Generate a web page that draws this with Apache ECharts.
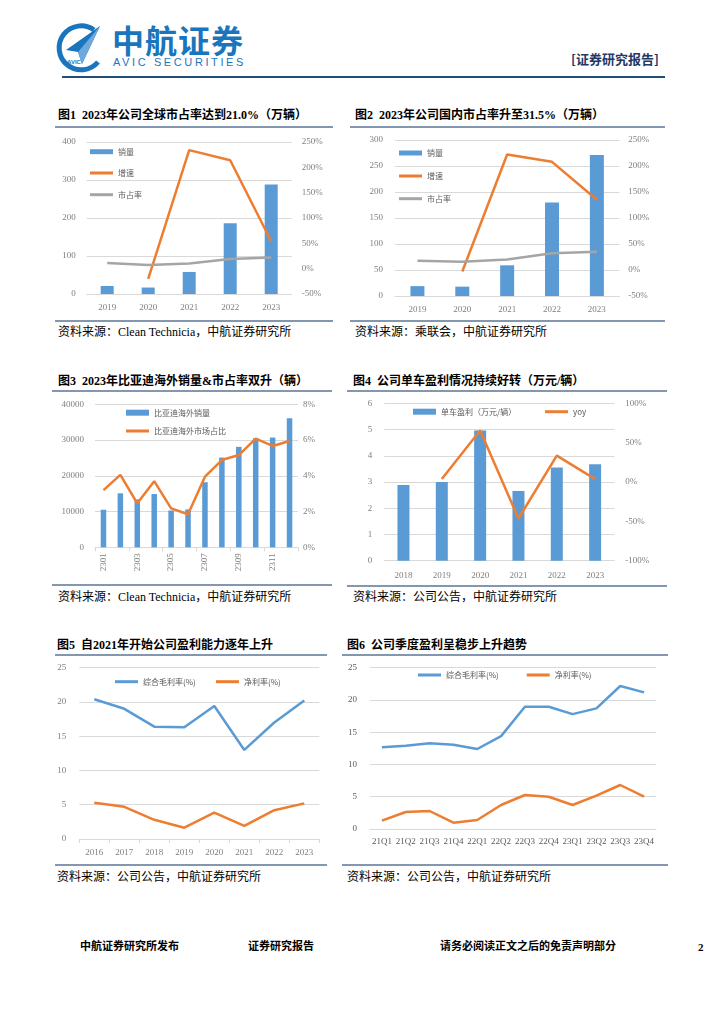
<!DOCTYPE html>
<html><head><meta charset="utf-8">
<script src="https://cdn.jsdelivr.net/npm/echarts@6/dist/echarts.min.js"></script>
<style>
html,body{margin:0;padding:0;background:#fff;}
body{width:724px;height:1024px;position:relative;overflow:hidden;font-family:'Liberation Serif','Noto Sans CJK SC',serif;}
.abs{position:absolute;}
.title{position:absolute;font-size:12px;font-weight:bold;color:#000;white-space:nowrap;line-height:14px;}
.src{position:absolute;font-size:12px;color:#000;white-space:nowrap;line-height:14px;}
.hl{position:absolute;height:1.5px;background:#8497b0;}
.chart{position:absolute;}
.foot{position:absolute;font-size:11px;font-weight:bold;color:#000;white-space:nowrap;line-height:13px;}
</style>
</head><body>
<!-- header -->
<svg class="abs" style="left:54px;top:20px" width="50" height="54" viewBox="0 0 50 54">
  <path d="M40 10 A22 22 0 1 0 44 42" fill="none" stroke="#1b75bc" stroke-width="5"/>
  <polygon points="46,6 12,30 24,32 28,44" fill="#1b75bc"/>
  <polygon points="46,6 24,32 28,44" fill="#6fa8dc"/>
  <text x="13" y="44" font-size="6" font-family="Liberation Sans,Arial" fill="#1b75bc" font-weight="bold">AVIC</text>
</svg>
<div class="abs" style="left:112px;top:20px;font-size:32px;font-weight:bold;color:#1b75bc;font-family:'Noto Sans CJK SC',sans-serif;line-height:38px;letter-spacing:1px;">中航证券</div>
<div class="abs" style="left:113px;top:56px;font-size:11px;color:#1b75bc;font-family:'Liberation Sans',Arial,sans-serif;letter-spacing:2.6px;line-height:13px;">AVIC SECURITIES</div>
<div class="abs" style="left:571px;top:51px;font-size:13px;font-weight:bold;color:#1f3864;font-family:'Noto Sans CJK SC',sans-serif;line-height:15px;">[证券研究报告]</div>
<div class="abs" style="left:62px;top:76px;width:603px;height:1.5px;background:#1f4e79;"></div>

<!-- titles -->
<div class="title" style="left:58px;top:108px;">图1&nbsp;&nbsp;2023年公司全球市占率达到21.0%（万辆）</div>
<div class="hl" style="left:55px;top:126px;width:278px;"></div>
<div class="title" style="left:355px;top:108px;">图2&nbsp;&nbsp;2023年公司国内市占率升至31.5%（万辆）</div>
<div class="hl" style="left:350px;top:126px;width:315px;"></div>
<div class="hl" style="left:55px;top:320px;width:278px;"></div>
<div class="hl" style="left:350px;top:320px;width:315px;"></div>
<div class="src" style="left:58px;top:325px;">资料来源：Clean Technicia，中航证券研究所</div>
<div class="src" style="left:355px;top:325px;">资料来源：乘联会，中航证券研究所</div>

<div class="title" style="left:58px;top:374px;">图3&nbsp;&nbsp;2023年比亚迪海外销量&amp;市占率双升（辆）</div>
<div class="hl" style="left:52px;top:390px;width:280px;"></div>
<div class="title" style="left:353px;top:374px;">图4&nbsp;&nbsp;公司单车盈利情况持续好转（万元/辆）</div>
<div class="hl" style="left:347px;top:390px;width:320px;"></div>
<div class="hl" style="left:52px;top:584px;width:280px;"></div>
<div class="hl" style="left:347px;top:585px;width:320px;"></div>
<div class="src" style="left:58px;top:590px;">资料来源：Clean Technicia，中航证券研究所</div>
<div class="src" style="left:353px;top:590px;">资料来源：公司公告，中航证券研究所</div>

<div class="title" style="left:57px;top:638px;">图5&nbsp;&nbsp;自2021年开始公司盈利能力逐年上升</div>
<div class="hl" style="left:55px;top:654px;width:272px;"></div>
<div class="title" style="left:347px;top:638px;">图6&nbsp;&nbsp;公司季度盈利呈稳步上升趋势</div>
<div class="hl" style="left:342px;top:654px;width:326px;"></div>
<div class="hl" style="left:55px;top:864px;width:272px;"></div>
<div class="hl" style="left:342px;top:864px;width:326px;"></div>
<div class="src" style="left:57px;top:870px;">资料来源：公司公告，中航证券研究所</div>
<div class="src" style="left:347px;top:870px;">资料来源：公司公告，中航证券研究所</div>

<!-- footer -->
<div class="foot" style="left:80px;top:940px;">中航证券研究所发布</div>
<div class="foot" style="left:248px;top:940px;">证券研究报告</div>
<div class="foot" style="left:440px;top:940px;">请务必阅读正文之后的免责声明部分</div>
<div class="foot" style="left:698px;top:941px;">2</div>

<div id="c1" class="chart" style="left:50px;top:130px;width:290px;height:188px;"></div>
<div id="c2" class="chart" style="left:345px;top:130px;width:322px;height:188px;"></div>
<div id="c3" class="chart" style="left:50px;top:395px;width:290px;height:188px;"></div>
<div id="c4" class="chart" style="left:345px;top:395px;width:322px;height:188px;"></div>
<div id="c5" class="chart" style="left:50px;top:660px;width:290px;height:203px;"></div>
<div id="c6" class="chart" style="left:340px;top:660px;width:330px;height:203px;"></div>

<script>
// ---- data ----
const years1 = ['2019','2020','2021','2022','2023'];
const globalSales = [21, 17, 58, 186, 288];
const globalGrowth = [null, -20, 234, 214, 54];
const globalShare = [11, 7, 10, 19, 22];

const years2 = ['2019','2020','2021','2022','2023'];
const domesticSales = [19, 18, 59, 180, 271];
const domesticGrowth = [null, -3, 222, 208, 135];
const domesticShare = [18, 16, 20, 32, 35];

const months3 = ['2301','2302','2303','2304','2305','2306','2307','2308','2309','2310','2311','2312'];
const overseasSales = [10500, 15100, 13400, 14900, 10300, 10600, 18200, 25100, 28100, 30500, 30700, 36100];
const overseasShare = [3.2, 4.05, 2.46, 3.7, 2.18, 1.85, 3.95, 4.88, 5.16, 6.08, 5.67, 5.95];

const years4 = ['2018','2019','2020','2021','2022','2023'];
const profitPerCar = [2.89, 3.0, 4.96, 2.66, 3.55, 3.68];
const profitYoy = [null, 3.8, 65.5, -46.4, 33.5, 3.7];

const years5 = ['2016','2017','2018','2019','2020','2021','2022','2023'];
const grossMarginY = [20.4, 19.0, 16.4, 16.3, 19.4, 13.0, 17.0, 20.2];
const netMarginY = [5.3, 4.7, 2.8, 1.65, 3.85, 1.9, 4.2, 5.2];

const quarters6 = ['21Q1','21Q2','21Q3','21Q4','22Q1','22Q2','22Q3','22Q4','23Q1','23Q2','23Q3','23Q4'];
const grossMarginQ = [12.66, 12.9, 13.28, 13.06, 12.4, 14.4, 18.95, 18.95, 17.8, 18.7, 22.16, 21.17];
const netMarginQ = [1.29, 2.63, 2.79, 0.98, 1.39, 3.72, 5.27, 5.0, 3.72, 5.16, 6.82, 5.0];

// ---- styles ----
const BLUE = '#5b9bd5', ORANGE = '#ed7d31', GRAY = '#a5a5a5';
const SERIF = "'Liberation Serif','Times New Roman',serif";
const SANS = "'Noto Sans CJK SC',sans-serif";
const lbl = (c) => ({color: c || '#7f7f7f', fontSize: 9, fontFamily: SERIF});
const grid = {lineStyle: {color: '#d9d9d9', width: 1}};
const legendText = {fontSize: 8, color: '#595959', fontFamily: SANS};

function leg(names, left, top, opts) {
  return Object.assign({
    orient: 'vertical', left: left, top: top, padding: 0, icon: 'rect',
    itemWidth: 23, itemHeight: 3, itemGap: 10, textStyle: legendText,
    data: names
  }, opts || {});
}

function mk(id, opt) {
  const c = echarts.init(document.getElementById(id), null, {renderer: 'canvas'});
  opt.animation = false;
  c.setOption(opt);
}

mk('c1', {
  grid: {left: 36.7, top: 12, width: 205, height: 152},
  legend: [
    leg(['销量'], 40, 17.7, {itemHeight: 5}),
    leg(['增速', '市占率'], 40, 39, {itemGap: 13.7})
  ],
  xAxis: {type: 'category', data: years1, axisLine: {lineStyle: {color: '#d9d9d9'}}, axisTick: {show: false},
    axisLabel: Object.assign(lbl(), {margin: 9})},
  yAxis: [
    {type: 'value', min: 0, max: 400, interval: 100, splitLine: grid, axisLine: {show: false}, axisTick: {show: false},
      axisLabel: Object.assign(lbl(), {margin: 11})},
    {type: 'value', min: -50, max: 250, interval: 50, splitLine: {show: false}, axisLine: {show: false}, axisTick: {show: false},
      axisLabel: Object.assign(lbl(), {margin: 10, formatter: '{value}%'})}
  ],
  series: [
    {name: '销量', type: 'bar', data: globalSales, barWidth: 13, itemStyle: {color: BLUE}},
    {name: '增速', type: 'line', yAxisIndex: 1, data: globalGrowth, symbol: 'none', lineStyle: {color: ORANGE, width: 2.5}, itemStyle: {color: ORANGE}},
    {name: '市占率', type: 'line', yAxisIndex: 1, data: globalShare, symbol: 'none', lineStyle: {color: GRAY, width: 2.5}, itemStyle: {color: GRAY}}
  ]
});

mk('c2', {
  grid: {left: 50, top: 10, width: 224.3, height: 156},
  legend: [
    leg(['销量'], 54, 19, {itemHeight: 5}),
    leg(['增速', '市占率'], 54, 42, {itemGap: 14.7})
  ],
  xAxis: {type: 'category', data: years2, axisLine: {lineStyle: {color: '#d9d9d9'}}, axisTick: {show: false},
    axisLabel: Object.assign(lbl(), {margin: 9})},
  yAxis: [
    {type: 'value', min: 0, max: 300, interval: 50, splitLine: grid, axisLine: {show: false}, axisTick: {show: false},
      axisLabel: Object.assign(lbl(), {margin: 12})},
    {type: 'value', min: -50, max: 250, interval: 50, splitLine: {show: false}, axisLine: {show: false}, axisTick: {show: false},
      axisLabel: Object.assign(lbl(), {margin: 9, formatter: '{value}%'})}
  ],
  series: [
    {name: '销量', type: 'bar', data: domesticSales, barWidth: 14, itemStyle: {color: BLUE}},
    {name: '增速', type: 'line', yAxisIndex: 1, data: domesticGrowth, symbol: 'none', lineStyle: {color: ORANGE, width: 2.5}, itemStyle: {color: ORANGE}},
    {name: '市占率', type: 'line', yAxisIndex: 1, data: domesticShare, symbol: 'none', lineStyle: {color: GRAY, width: 2.5}, itemStyle: {color: GRAY}}
  ]
});

mk('c3', {
  grid: {left: 45, top: 9.3, width: 203, height: 143},
  legend: [
    leg(['比亚迪海外销量'], 76, 13.7, {itemHeight: 6}),
    leg(['比亚迪海外市场占比'], 76, 32)
  ],
  xAxis: {type: 'category', data: months3, axisLine: {lineStyle: {color: '#d9d9d9'}},
    axisTick: {show: true, interval: 1, length: 4, lineStyle: {color: '#d9d9d9'}},
    axisLabel: Object.assign(lbl(), {margin: 6, rotate: 90, interval: 1})},
  yAxis: [
    {type: 'value', min: 0, max: 40000, interval: 10000, splitLine: grid, axisLine: {show: false}, axisTick: {show: false},
      axisLabel: Object.assign(lbl(), {margin: 11, formatter: (v) => String(v)})},
    {type: 'value', min: 0, max: 8, interval: 2, splitLine: {show: false}, axisLine: {show: false}, axisTick: {show: false},
      axisLabel: Object.assign(lbl(), {margin: 5, formatter: '{value}%'})}
  ],
  series: [
    {name: '比亚迪海外销量', type: 'bar', data: overseasSales, barWidth: 5.5, itemStyle: {color: BLUE}},
    {name: '比亚迪海外市场占比', type: 'line', yAxisIndex: 1, data: overseasShare, symbol: 'none', lineStyle: {color: ORANGE, width: 2.5}, itemStyle: {color: ORANGE}}
  ]
});

mk('c4', {
  grid: {left: 39.3, top: 8.3, width: 230, height: 157.4},
  legend: [
    leg(['单车盈利（万元/辆）'], 68, 12.7, {itemHeight: 6}),
    leg(['yoy'], 200, 12.7)
  ],
  xAxis: {type: 'category', data: years4, axisLine: {lineStyle: {color: '#d9d9d9'}}, axisTick: {show: false},
    axisLabel: Object.assign(lbl(), {margin: 10})},
  yAxis: [
    {type: 'value', min: 0, max: 6, interval: 1, splitLine: grid, axisLine: {show: false}, axisTick: {show: false},
      axisLabel: Object.assign(lbl(), {margin: 12})},
    {type: 'value', min: -100, max: 100, interval: 50, splitLine: {show: false}, axisLine: {show: false}, axisTick: {show: false},
      axisLabel: Object.assign(lbl(), {margin: 11, formatter: '{value}%'})}
  ],
  series: [
    {name: '单车盈利（万元/辆）', type: 'bar', data: profitPerCar, barWidth: 12, itemStyle: {color: BLUE}},
    {name: 'yoy', type: 'line', yAxisIndex: 1, data: profitYoy, symbol: 'none', lineStyle: {color: ORANGE, width: 2.5}, itemStyle: {color: ORANGE}}
  ]
});

mk('c5', {
  grid: {left: 29.3, top: 7.7, width: 240, height: 171.3},
  legend: [
    leg(['综合毛利率(%)'], 65, 17.7),
    leg(['净利率(%)'], 166, 17.7)
  ],
  xAxis: {type: 'category', data: years5, boundaryGap: true, axisLine: {lineStyle: {color: '#d9d9d9'}},
    axisTick: {show: true, length: 4, lineStyle: {color: '#d9d9d9'}},
    axisLabel: Object.assign(lbl(), {margin: 9})},
  yAxis: {type: 'value', min: 0, max: 25, interval: 5, splitLine: grid, axisLine: {show: false}, axisTick: {show: false},
    axisLabel: Object.assign(lbl(), {margin: 13})},
  series: [
    {name: '综合毛利率(%)', type: 'line', data: grossMarginY, symbol: 'none', lineStyle: {color: BLUE, width: 2.5}, itemStyle: {color: BLUE}},
    {name: '净利率(%)', type: 'line', data: netMarginY, symbol: 'none', lineStyle: {color: ORANGE, width: 2.5}, itemStyle: {color: ORANGE}}
  ]
});

mk('c6', {
  grid: {left: 30, top: 7.7, width: 286, height: 161.3},
  legend: [
    leg(['综合毛利率(%)'], 78, 11),
    leg(['净利率(%)'], 186.7, 11)
  ],
  xAxis: {type: 'category', data: quarters6, boundaryGap: true, axisLine: {lineStyle: {color: '#d9d9d9'}},
    axisTick: {show: false},
    axisLabel: Object.assign(lbl('#595959'), {margin: 8, interval: 0})},
  yAxis: {type: 'value', min: 0, max: 25, interval: 5, splitLine: grid, axisLine: {show: false}, axisTick: {show: false},
    axisLabel: Object.assign(lbl('#595959'), {margin: 13})},
  series: [
    {name: '综合毛利率(%)', type: 'line', data: grossMarginQ, symbol: 'none', lineStyle: {color: BLUE, width: 2.5}, itemStyle: {color: BLUE}},
    {name: '净利率(%)', type: 'line', data: netMarginQ, symbol: 'none', lineStyle: {color: ORANGE, width: 2.5}, itemStyle: {color: ORANGE}}
  ]
});
</script>
</body></html>
